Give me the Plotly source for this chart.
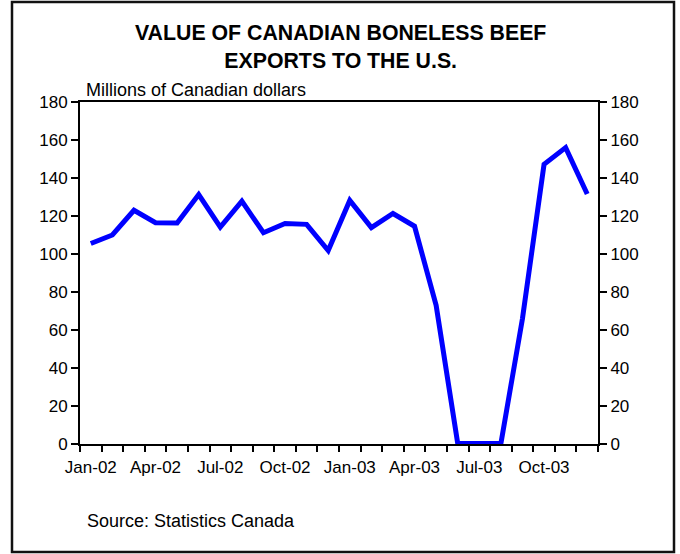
import plotly.graph_objects as go

months = ["Jan-02", "Feb-02", "Mar-02", "Apr-02", "May-02", "Jun-02", "Jul-02", "Aug-02",
          "Sep-02", "Oct-02", "Nov-02", "Dec-02", "Jan-03", "Feb-03", "Mar-03", "Apr-03",
          "May-03", "Jun-03", "Jul-03", "Aug-03", "Sep-03", "Oct-03", "Nov-03", "Dec-03"]
values = [105.5, 110, 123, 116.5, 116.3, 131.3, 114.2, 127.8, 111.2, 116.1, 115.6, 101.8,
          128.2, 113.9, 121.3, 114.6, 73, 0.3, 0.3, 0.2, 66, 147.2, 156, 131.6]
tick_labels = [m if i % 3 == 0 else "" for i, m in enumerate(months)]
y_ticks = [0, 20, 40, 60, 80, 100, 120, 140, 160, 180]

title = "VALUE OF CANADIAN BONELESS BEEF<br>EXPORTS TO THE U.S."
unit_label = "Millions of Canadian dollars"
source = "Source: Statistics Canada"

W, H = 680, 554
L, R, T, B = 80, 82, 102, 110
pw, ph = W - L - R, H - T - B

def px(x):
    return (x - L) / pw

def py(y):
    return (H - B - y) / ph

FONT = "Liberation Sans, Arial, sans-serif"
TICK_SIZE = 17

fig = go.Figure()
fig.add_trace(go.Scatter(x=months, y=values, mode="lines",
                         line=dict(color="#0000FF", width=5),
                         showlegend=False, hoverinfo="x+y"))
# invisible copy so the right-hand axis is drawn with the same scale
fig.add_trace(go.Scatter(x=months, y=values, mode="lines", yaxis="y2",
                         line=dict(color="rgba(0,0,0,0)", width=0),
                         showlegend=False, hoverinfo="skip"))

axis_common = dict(range=[0, 180], tickmode="array", tickvals=y_ticks,
                   ticks="outside", ticklen=7, tickwidth=2, tickcolor="black",
                   showline=True, linecolor="black", linewidth=2,
                   showgrid=False, zeroline=False,
                   tickfont=dict(size=TICK_SIZE), fixedrange=True)

fig.update_layout(
    width=W, height=H,
    margin=dict(l=L, r=R, t=T, b=B),
    paper_bgcolor="white", plot_bgcolor="white",
    font=dict(family=FONT, size=TICK_SIZE, color="black"),
    xaxis=dict(type="category", categoryorder="array", categoryarray=months,
               range=[-0.5, len(months) - 0.5],
               tickmode="array", tickvals=months, ticktext=tick_labels,
               tickangle=0, ticklabelstandoff=7,
               tickson="boundaries", ticks="outside", ticklen=6, tickwidth=2,
               tickcolor="black", showline=True, linecolor="black", linewidth=2,
               mirror=True, showgrid=False, zeroline=False,
               tickfont=dict(size=TICK_SIZE), fixedrange=True),
    yaxis=dict(**axis_common),
    yaxis2=dict(**axis_common, overlaying="y", side="right"),
)

fig.add_annotation(text="<b>" + title + "</b>", xref="paper", yref="paper",
                   x=px(340), y=py(47), xanchor="center", yanchor="middle",
                   showarrow=False, align="center",
                   font=dict(size=21.3, family=FONT, color="black"))
fig.add_annotation(text=unit_label, xref="paper", yref="paper",
                   x=px(84), y=py(90), xanchor="left", yanchor="middle",
                   showarrow=False, font=dict(size=18, family=FONT, color="black"))
fig.add_annotation(text=source, xref="paper", yref="paper",
                   x=px(85), y=py(521), xanchor="left", yanchor="middle",
                   showarrow=False, font=dict(size=18, family=FONT, color="black"))

fig.add_shape(type="rect", xref="paper", yref="paper",
              x0=px(12), x1=px(674), y0=py(552), y1=py(2),
              line=dict(color="#111111", width=2.5), fillcolor="rgba(0,0,0,0)",
              layer="below")

fig.write_html("out.html")
